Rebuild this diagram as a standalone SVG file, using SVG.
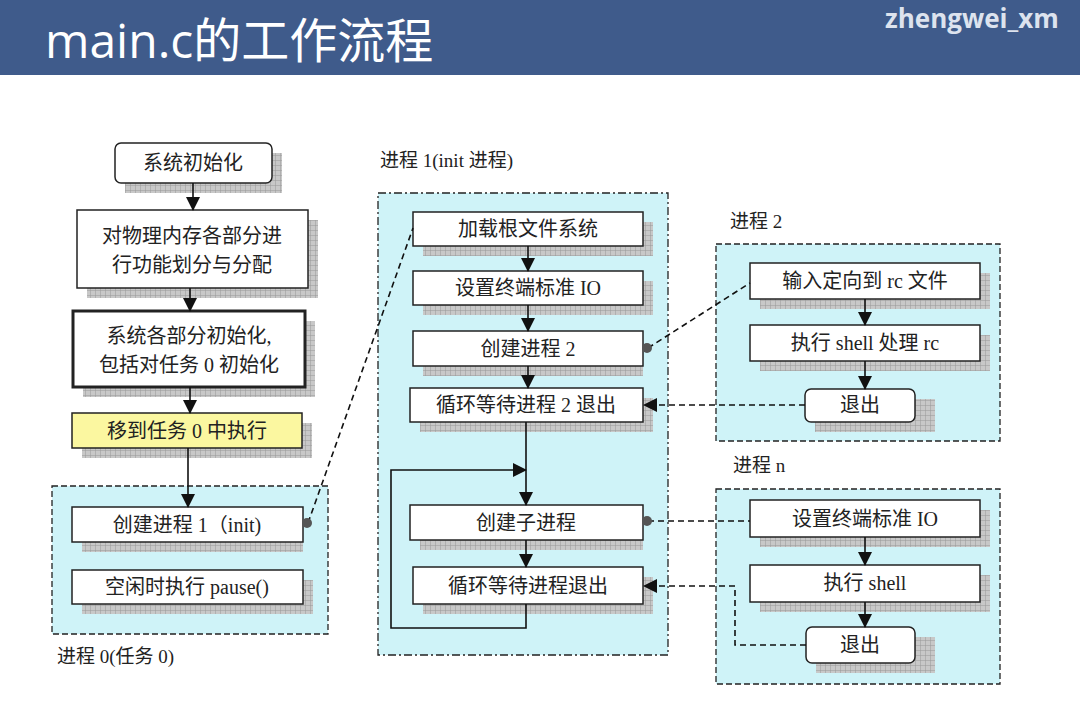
<svg xmlns="http://www.w3.org/2000/svg" width="1080" height="711" viewBox="0 0 1080 711">
<style>
.t{font-family:"Liberation Serif","Noto Sans CJK SC",serif;font-size:20px;fill:#222;text-anchor:middle}
.b{fill:#fff;stroke:#222;stroke-width:1.5}
.sh{fill:url(#grid)}
.ln{stroke:#111;stroke-width:1.6;fill:none}
.dl{stroke:#111;stroke-width:1.6;fill:none;stroke-dasharray:6 4}
.grp{fill:#cff3f8;stroke:#222;stroke-width:1.3;stroke-dasharray:6 3}
.grp2{fill:#cff3f8;stroke:#222;stroke-width:1.3;stroke-dasharray:8 3 2 3}
.lb{font-family:"Liberation Serif","Noto Sans CJK SC",serif;font-size:19px;fill:#222}
</style>
<defs>
<pattern id="grid" width="5" height="5" patternUnits="userSpaceOnUse">
<rect width="5" height="5" fill="#c8c8c8"/><path d="M0 0H5M0 0V5" stroke="#999" stroke-width="1"/>
</pattern>
<marker id="ar2" markerWidth="14" markerHeight="14" refX="13" refY="7" orient="auto" markerUnits="userSpaceOnUse"><path d="M0 0L14 7L0 14Z" fill="#111"/></marker>
</defs>
<rect width="1080" height="711" fill="#fff"/>
<rect width="1080" height="75" fill="#3f5b8b"/>
<text x="45" y="58" font-family="'Open Sans','Noto Sans CJK SC',sans-serif" font-size="48" fill="#fff">main.c的工作流程</text>
<text x="885" y="28" font-family="'Open Sans',sans-serif" font-size="26" font-weight="bold" fill="#dde3ee">zhengwei_xm</text>

<rect class="grp" x="52" y="486" width="276" height="148"/>
<text class="lb" x="57" y="663">进程 0(任务 0)</text>
<rect class="grp2" x="378" y="193" width="290" height="462"/>
<text class="lb" x="380" y="167">进程 1(init 进程)</text>
<rect class="grp" x="716" y="244" width="284" height="197"/>
<text class="lb" x="730" y="228">进程 2</text>
<rect class="grp" x="716" y="489" width="284" height="195"/>
<text class="lb" x="733" y="472">进程 n</text>

<g id="n1"><rect class="sh" x="125" y="153" width="157" height="40"/><rect class="b" x="115" y="143" width="157" height="40" rx="6"/><text class="t" x="193" y="170">系统初始化</text></g>
<g id="n2"><rect class="sh" x="87" y="220" width="231" height="78"/><rect class="b" x="77" y="210" width="231" height="78"/><text class="t" x="192" y="243">对物理内存各部分进</text><text class="t" x="192" y="272">行功能划分与分配</text></g>
<g id="n3"><rect class="sh" x="83" y="321" width="232" height="76"/><rect class="b" x="73" y="311" width="232" height="76" style="stroke-width:3"/><text class="t" x="189" y="343">系统各部分初始化,</text><text class="t" x="189" y="372">包括对任务 0 初始化</text></g>
<g id="n4"><rect class="sh" x="82" y="423" width="230" height="35"/><rect class="b" x="72" y="413" width="230" height="35" style="fill:#fbf7a0"/><text class="t" x="187" y="438">移到任务 0 中执行</text></g>
<g id="n5"><rect class="sh" x="82" y="517" width="221" height="35"/><rect class="b" x="72" y="507" width="231" height="35"/><text class="t" x="187" y="532">创建进程 1（init)</text></g>
<g id="n6"><rect class="sh" x="82" y="580" width="231" height="34"/><rect class="b" x="72" y="570" width="231" height="34"/><text class="t" x="187" y="594">空闲时执行 pause()</text></g>

<g id="m1"><rect class="sh" x="423" y="222" width="230" height="34"/><rect class="b" x="413" y="212" width="230" height="34"/><text class="t" x="528" y="236">加载根文件系统</text></g>
<g id="m2"><rect class="sh" x="423" y="281" width="230" height="34"/><rect class="b" x="413" y="271" width="230" height="34"/><text class="t" x="528" y="295">设置终端标准 IO</text></g>
<g id="m3"><rect class="sh" x="423" y="341" width="220" height="35"/><rect class="b" x="413" y="331" width="230" height="35"/><text class="t" x="528" y="356">创建进程 2</text></g>
<g id="m4"><rect class="sh" x="420" y="398" width="233" height="34"/><rect class="b" x="410" y="388" width="233" height="34"/><text class="t" x="526" y="412">循环等待进程 2 退出</text></g>
<g id="m5"><rect class="sh" x="420" y="515" width="223" height="35"/><rect class="b" x="410" y="505" width="233" height="35"/><text class="t" x="526" y="530">创建子进程</text></g>
<g id="m6"><rect class="sh" x="423" y="577" width="230" height="37"/><rect class="b" x="413" y="567" width="230" height="37"/><text class="t" x="528" y="593">循环等待进程退出</text></g>

<g id="r1"><rect class="sh" x="760" y="273" width="230" height="36"/><rect class="b" x="750" y="263" width="230" height="36"/><text class="t" x="865" y="288">输入定向到 rc 文件</text></g>
<g id="r2"><rect class="sh" x="760" y="335" width="230" height="36"/><rect class="b" x="750" y="325" width="230" height="36"/><text class="t" x="865" y="350">执行 shell 处理 rc</text></g>
<g id="r3"><rect class="sh" x="815" y="399" width="120" height="33"/><rect class="b" x="805" y="389" width="110" height="33" rx="6"/><text class="t" x="860" y="412">退出</text></g>
<g id="s1"><rect class="sh" x="760" y="510" width="230" height="37"/><rect class="b" x="750" y="500" width="230" height="37"/><text class="t" x="865" y="526">设置终端标准 IO</text></g>
<g id="s2"><rect class="sh" x="760" y="575" width="230" height="37"/><rect class="b" x="750" y="565" width="230" height="37"/><text class="t" x="865" y="590">执行 shell</text></g>
<g id="s3"><rect class="sh" x="816" y="637" width="119" height="36"/><rect class="b" x="806" y="627" width="109" height="36" rx="6"/><text class="t" x="860" y="652">退出</text></g>

<g id="connectors">
<path class="ln" d="M193 183V210" marker-end="url(#ar2)"/>
<path class="ln" d="M190 288V311" marker-end="url(#ar2)"/>
<path class="ln" d="M190 387V413" marker-end="url(#ar2)"/>
<path class="ln" d="M188 448V507" marker-end="url(#ar2)"/>
<path class="ln" d="M528 246V271" marker-end="url(#ar2)"/>
<path class="ln" d="M528 305V331" marker-end="url(#ar2)"/>
<path class="ln" d="M528 366V388" marker-end="url(#ar2)"/>
<path class="ln" d="M526 422V505" marker-end="url(#ar2)"/>
<path class="ln" d="M526 540V567" marker-end="url(#ar2)"/>
<path class="ln" d="M526 604V628H391V470H526" marker-end="url(#ar2)"/>
<path class="ln" d="M865 299V325" marker-end="url(#ar2)"/>
<path class="ln" d="M865 361V389" marker-end="url(#ar2)"/>
<path class="ln" d="M865 537V565" marker-end="url(#ar2)"/>
<path class="ln" d="M865 602V627" marker-end="url(#ar2)"/>
<path class="dl" d="M308 523L413 228"/>
<path class="dl" d="M648 348L750 283"/>
<path class="dl" d="M648 521H750"/>
<path class="dl" d="M805 405H657"/>
<path d="M643 405L657 398V412Z" fill="#111"/>
<path class="dl" d="M806 645H735V586H657"/>
<path d="M643 586L657 579V593Z" fill="#111"/>
<circle cx="307" cy="523" r="5" fill="#555"/>
<circle cx="647" cy="348" r="5" fill="#555"/>
<circle cx="647" cy="521" r="5" fill="#555"/>
</g>
</svg>
